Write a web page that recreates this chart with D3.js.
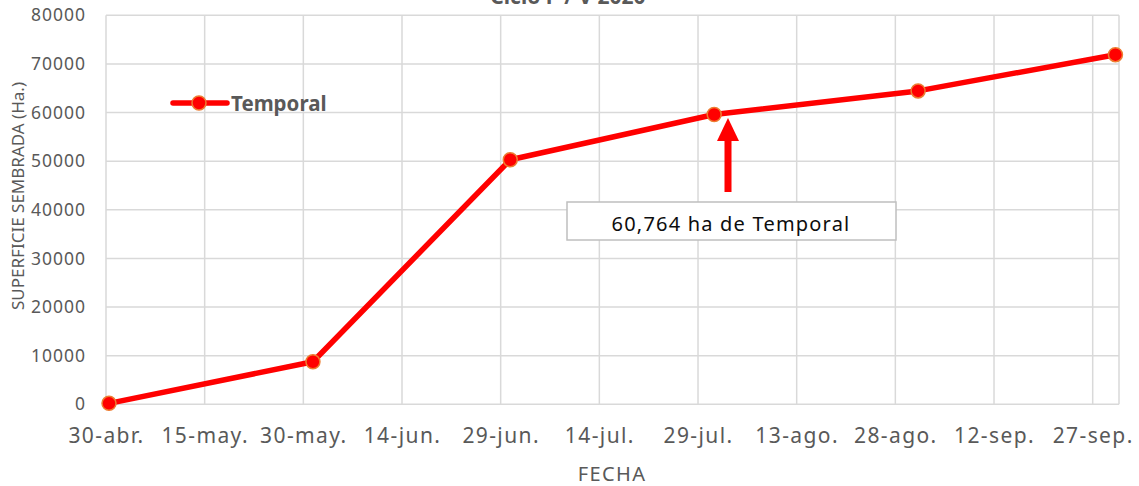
<!DOCTYPE html>
<html><head><meta charset="utf-8">
<script src="https://cdn.jsdelivr.net/npm/d3@7"></script>
<style>body{margin:0;background:#fff}svg{display:block}</style>
</head><body>
<svg id="c" width="1139" height="486"></svg>
<script>
const dates = ["2020-04-30 11:00","2020-05-31 11:00","2020-06-30 11:00","2020-07-31 11:00","2020-08-31 11:00","2020-09-30 11:00"];
const temporal = [200, 8750, 50300, 59600, 64450, 71900];
const tickDates = ["2020-04-30","2020-05-15","2020-05-30","2020-06-14","2020-06-29","2020-07-14","2020-07-29","2020-08-13","2020-08-28","2020-09-12","2020-09-27"];
const tickLabels = ["30-abr.","15-may.","30-may.","14-jun.","29-jun.","14-jul.","29-jul.","13-ago.","28-ago.","12-sep.","27-sep."];
const yTicks = [0,10000,20000,30000,40000,50000,60000,70000,80000];
const seriesName = "Temporal";
const title = "Ciclo P / V 2020";
const annotation = "60,764 ha de Temporal";

const parseDay = d3.utcParse("%Y-%m-%d");
const parseTime = d3.utcParse("%Y-%m-%d %H:%M");
const svg = d3.select("#c");
const L = 106, R = 1119, T = 15.3, B = 404.3;
const x = d3.scaleUtc().domain([parseDay("2020-04-30"), parseDay("2020-10-01")]).range([L, R]);
const y = d3.scaleLinear().domain([0, 80000]).range([B, T]);
const grey = "#595959", grid = "#d9d9d9";
const font = "'Noto Sans', 'Open Sans', sans-serif";

// gridlines
const g = svg.append("g");
g.selectAll(".hy").data(yTicks).join("line")
  .attr("x1", L).attr("x2", R).attr("y1", d => y(d)).attr("y2", d => y(d))
  .attr("stroke", grid).attr("stroke-width", 1.5);
g.selectAll(".vx").data(tickDates.map(parseDay).concat([parseDay("2020-10-01")])).join("line")
  .attr("x1", d => x(d)).attr("x2", d => x(d)).attr("y1", T).attr("y2", B)
  .attr("stroke", grid).attr("stroke-width", 1.5);

// y axis
const yAxis = d3.axisLeft(y).tickValues(yTicks).tickSize(0).tickPadding(20).tickFormat(d3.format("d"));
const ya = svg.append("g").attr("transform", `translate(${L},0)`).call(yAxis);
ya.select(".domain").remove();
ya.selectAll("text").attr("fill", grey).style("font-family", font).style("font-size", "17.5px").style("letter-spacing", "1px");

// x axis
const xAxis = d3.axisBottom(x).tickValues(tickDates.map(parseDay)).tickSize(0).tickPadding(24)
  .tickFormat((d, i) => tickLabels[i]);
const xa = svg.append("g").attr("transform", `translate(0,${B})`).call(xAxis);
xa.select(".domain").remove();
xa.selectAll("text").attr("fill", grey).style("font-family", font).style("font-size", "21px").style("letter-spacing", "1.4px");

// titles
svg.append("text").attr("x", 568).attr("y", 4).attr("text-anchor", "middle")
  .attr("fill", grey).style("font-family", font).style("font-size", "21px").style("font-weight", "bold").text(title);
svg.append("text").attr("x", 612).attr("y", 481).attr("text-anchor", "middle")
  .attr("fill", grey).style("font-family", font).style("font-size", "20px").style("letter-spacing", "1.4px").text("FECHA");
svg.append("text").attr("transform", "translate(24,196) rotate(-90)").attr("text-anchor", "middle")
  .attr("fill", grey).style("font-family", font).style("font-size", "17px").text("SUPERFICIE SEMBRADA (Ha.)");

// line
const data = dates.map((d, i) => ({date: parseTime(d), v: temporal[i]}));
svg.append("path").datum(data)
  .attr("d", d3.line().x(d => x(d.date)).y(d => y(d.v)))
  .attr("fill", "none").attr("stroke", "#ff0000").attr("stroke-width", 5.5).attr("stroke-linejoin", "round");
svg.selectAll(".pt").data(data).join("circle")
  .attr("cx", d => x(d.date)).attr("cy", d => y(d.v)).attr("r", 7)
  .attr("fill", "#ff0000").attr("stroke", "#ed7d31").attr("stroke-width", 1.5);

// legend
svg.append("line").attr("x1", 173).attr("x2", 227).attr("y1", 103).attr("y2", 103)
  .attr("stroke", "#ff0000").attr("stroke-width", 5.5).attr("stroke-linecap", "round");
svg.append("circle").attr("cx", 199).attr("cy", 103).attr("r", 7)
  .attr("fill", "#ff0000").attr("stroke", "#ed7d31").attr("stroke-width", 1.5);
svg.append("text").attr("x", 231).attr("y", 111).attr("fill", grey)
  .style("font-family", font).style("font-size", "20.5px").style("font-weight", "bold").text(seriesName);

// annotation arrow
const ax = 728;
svg.append("rect").attr("x", ax - 3.5).attr("y", 138).attr("width", 7).attr("height", 54).attr("fill", "#ff0000");
svg.append("path").attr("d", `M${ax},118 L${ax+11},141 L${ax-11},141 Z`).attr("fill", "#ff0000");
svg.append("rect").attr("x", 567).attr("y", 202).attr("width", 329).attr("height", 38)
  .attr("fill", "#fff").attr("stroke", "#bfbfbf").attr("stroke-width", 1.5);
svg.append("text").attr("x", 731).attr("y", 231).attr("text-anchor", "middle").attr("fill", "#0d0d0d")
  .style("font-family", font).style("font-size", "20px").style("letter-spacing", "1.2px").text(annotation);
</script>
</body></html>
